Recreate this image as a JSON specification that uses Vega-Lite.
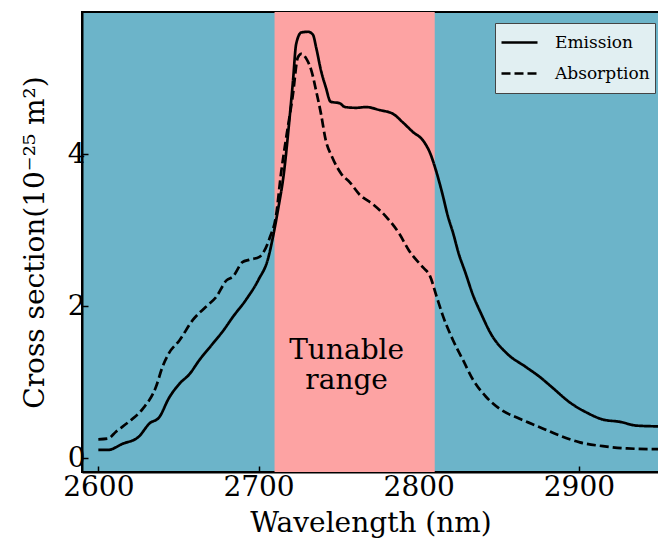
{
  "$schema": "https://vega.github.io/schema/vega-lite/v6.json",
  "width": 577,
  "height": 460,
  "autosize": {"type": "none"},
  "padding": {"left": 82, "top": 12, "right": 0, "bottom": 73},
  "background": "white",
  "datasets": {
    "band": [{"start": 2710, "end": 2810}],
    "label": [{"wavelength": 2755, "value": 1.31, "text": "Tunable\nrange"}],
    "curves": [
      {"series": "Emission", "wavelength": 2600, "value": 0.11},
      {"series": "Emission", "wavelength": 2606, "value": 0.11},
      {"series": "Emission", "wavelength": 2615, "value": 0.19},
      {"series": "Emission", "wavelength": 2625, "value": 0.28},
      {"series": "Emission", "wavelength": 2632, "value": 0.46},
      {"series": "Emission", "wavelength": 2638, "value": 0.54},
      {"series": "Emission", "wavelength": 2644, "value": 0.79},
      {"series": "Emission", "wavelength": 2650.6, "value": 0.98},
      {"series": "Emission", "wavelength": 2657, "value": 1.11},
      {"series": "Emission", "wavelength": 2663, "value": 1.29},
      {"series": "Emission", "wavelength": 2671.5, "value": 1.51},
      {"series": "Emission", "wavelength": 2678, "value": 1.68},
      {"series": "Emission", "wavelength": 2684, "value": 1.86},
      {"series": "Emission", "wavelength": 2692, "value": 2.08},
      {"series": "Emission", "wavelength": 2700, "value": 2.35},
      {"series": "Emission", "wavelength": 2706, "value": 2.63},
      {"series": "Emission", "wavelength": 2709, "value": 2.91},
      {"series": "Emission", "wavelength": 2712, "value": 3.25},
      {"series": "Emission", "wavelength": 2716, "value": 3.78},
      {"series": "Emission", "wavelength": 2719, "value": 4.39},
      {"series": "Emission", "wavelength": 2721.5, "value": 4.96},
      {"series": "Emission", "wavelength": 2723.5, "value": 5.45},
      {"series": "Emission", "wavelength": 2726.7, "value": 5.6},
      {"series": "Emission", "wavelength": 2731, "value": 5.61},
      {"series": "Emission", "wavelength": 2734, "value": 5.57},
      {"series": "Emission", "wavelength": 2736, "value": 5.4},
      {"series": "Emission", "wavelength": 2739, "value": 5.1},
      {"series": "Emission", "wavelength": 2742, "value": 4.88},
      {"series": "Emission", "wavelength": 2745, "value": 4.69},
      {"series": "Emission", "wavelength": 2750.6, "value": 4.67},
      {"series": "Emission", "wavelength": 2754, "value": 4.62},
      {"series": "Emission", "wavelength": 2761, "value": 4.61},
      {"series": "Emission", "wavelength": 2767, "value": 4.62},
      {"series": "Emission", "wavelength": 2775.6, "value": 4.58},
      {"series": "Emission", "wavelength": 2784, "value": 4.53},
      {"series": "Emission", "wavelength": 2790, "value": 4.42},
      {"series": "Emission", "wavelength": 2796.5, "value": 4.29},
      {"series": "Emission", "wavelength": 2802.7, "value": 4.18},
      {"series": "Emission", "wavelength": 2807, "value": 4.02},
      {"series": "Emission", "wavelength": 2811, "value": 3.77},
      {"series": "Emission", "wavelength": 2815, "value": 3.46},
      {"series": "Emission", "wavelength": 2818, "value": 3.2},
      {"series": "Emission", "wavelength": 2821.5, "value": 2.96},
      {"series": "Emission", "wavelength": 2825, "value": 2.69},
      {"series": "Emission", "wavelength": 2829, "value": 2.45},
      {"series": "Emission", "wavelength": 2834, "value": 2.14},
      {"series": "Emission", "wavelength": 2839, "value": 1.9},
      {"series": "Emission", "wavelength": 2845, "value": 1.64},
      {"series": "Emission", "wavelength": 2855, "value": 1.38},
      {"series": "Emission", "wavelength": 2867, "value": 1.2},
      {"series": "Emission", "wavelength": 2875.6, "value": 1.07},
      {"series": "Emission", "wavelength": 2884, "value": 0.92},
      {"series": "Emission", "wavelength": 2894, "value": 0.74},
      {"series": "Emission", "wavelength": 2905, "value": 0.6},
      {"series": "Emission", "wavelength": 2915, "value": 0.51},
      {"series": "Emission", "wavelength": 2925.6, "value": 0.48},
      {"series": "Emission", "wavelength": 2936, "value": 0.43},
      {"series": "Emission", "wavelength": 2950, "value": 0.42},
      {"series": "Absorption", "wavelength": 2600, "value": 0.25},
      {"series": "Absorption", "wavelength": 2606, "value": 0.26},
      {"series": "Absorption", "wavelength": 2611, "value": 0.35},
      {"series": "Absorption", "wavelength": 2619, "value": 0.48},
      {"series": "Absorption", "wavelength": 2627.7, "value": 0.65},
      {"series": "Absorption", "wavelength": 2636, "value": 0.94},
      {"series": "Absorption", "wavelength": 2640, "value": 1.2},
      {"series": "Absorption", "wavelength": 2644, "value": 1.38},
      {"series": "Absorption", "wavelength": 2650.6, "value": 1.55},
      {"series": "Absorption", "wavelength": 2659, "value": 1.82},
      {"series": "Absorption", "wavelength": 2667, "value": 1.99},
      {"series": "Absorption", "wavelength": 2673.5, "value": 2.12},
      {"series": "Absorption", "wavelength": 2680, "value": 2.34},
      {"series": "Absorption", "wavelength": 2684, "value": 2.39},
      {"series": "Absorption", "wavelength": 2690, "value": 2.58},
      {"series": "Absorption", "wavelength": 2694, "value": 2.61},
      {"series": "Absorption", "wavelength": 2700.6, "value": 2.65},
      {"series": "Absorption", "wavelength": 2707, "value": 2.9},
      {"series": "Absorption", "wavelength": 2711, "value": 3.2},
      {"series": "Absorption", "wavelength": 2714, "value": 3.74},
      {"series": "Absorption", "wavelength": 2717, "value": 4.18},
      {"series": "Absorption", "wavelength": 2721.5, "value": 4.79},
      {"series": "Absorption", "wavelength": 2724.5, "value": 5.27},
      {"series": "Absorption", "wavelength": 2726.7, "value": 5.32},
      {"series": "Absorption", "wavelength": 2730, "value": 5.25},
      {"series": "Absorption", "wavelength": 2733, "value": 5.1},
      {"series": "Absorption", "wavelength": 2736, "value": 4.83},
      {"series": "Absorption", "wavelength": 2739, "value": 4.53},
      {"series": "Absorption", "wavelength": 2742, "value": 4.18},
      {"series": "Absorption", "wavelength": 2746, "value": 3.96},
      {"series": "Absorption", "wavelength": 2751.7, "value": 3.74},
      {"series": "Absorption", "wavelength": 2757, "value": 3.63},
      {"series": "Absorption", "wavelength": 2763, "value": 3.47},
      {"series": "Absorption", "wavelength": 2771.5, "value": 3.34},
      {"series": "Absorption", "wavelength": 2780, "value": 3.17},
      {"series": "Absorption", "wavelength": 2788, "value": 2.95},
      {"series": "Absorption", "wavelength": 2794, "value": 2.73},
      {"series": "Absorption", "wavelength": 2802.7, "value": 2.51},
      {"series": "Absorption", "wavelength": 2807, "value": 2.4},
      {"series": "Absorption", "wavelength": 2811, "value": 2.14},
      {"series": "Absorption", "wavelength": 2815, "value": 1.88},
      {"series": "Absorption", "wavelength": 2821.5, "value": 1.55},
      {"series": "Absorption", "wavelength": 2827.7, "value": 1.29},
      {"series": "Absorption", "wavelength": 2834, "value": 1.03},
      {"series": "Absorption", "wavelength": 2842, "value": 0.81},
      {"series": "Absorption", "wavelength": 2850.6, "value": 0.65},
      {"series": "Absorption", "wavelength": 2863, "value": 0.52},
      {"series": "Absorption", "wavelength": 2875.6, "value": 0.41},
      {"series": "Absorption", "wavelength": 2888, "value": 0.3},
      {"series": "Absorption", "wavelength": 2900.6, "value": 0.21},
      {"series": "Absorption", "wavelength": 2915, "value": 0.16},
      {"series": "Absorption", "wavelength": 2930, "value": 0.13},
      {"series": "Absorption", "wavelength": 2950, "value": 0.12}
    ]
  },
  "layer": [
    {
      "data": {"name": "band"},
      "mark": {"type": "rect", "color": "#fda3a3", "opacity": 1},
      "encoding": {
        "x": {"field": "start", "type": "quantitative"},
        "x2": {"field": "end"}
      }
    },
    {
      "data": {"name": "curves"},
      "mark": {"type": "line", "color": "black", "strokeWidth": 2.7, "clip": true, "interpolate": "monotone"},
      "encoding": {
        "x": {
          "field": "wavelength",
          "type": "quantitative",
          "scale": {"domain": [2589.8, 2950], "nice": false, "zero": false},
          "axis": {"title": "Wavelength (nm)", "values": [2600, 2700, 2800, 2900], "format": "d", "labelPadding": 7, "titlePadding": 8}
        },
        "y": {
          "field": "value",
          "type": "quantitative",
          "scale": {"domain": [-0.18, 5.87], "nice": false, "zero": false},
          "axis": {"title": "Cross section(10⁻²⁵ m²)", "values": [0, 2, 4], "format": "d", "labelPadding": 3, "titlePadding": 18}
        },
        "strokeDash": {
          "field": "series",
          "type": "nominal",
          "scale": {"domain": ["Emission", "Absorption"], "range": [[1, 0], [9, 4]]},
          "legend": {
            "title": null,
            "orient": "none",
            "legendX": 413,
            "legendY": 11,
            "fillColor": "#e1eff2",
            "strokeColor": "#444444",
            "padding": 5,
            "symbolType": "stroke",
            "symbolSize": 1296,
            "symbolStrokeWidth": 2.7,
            "symbolStrokeColor": "black",
            "clipHeight": 29,
            "labelFont": "DejaVu Serif",
            "labelFontSize": 17,
            "labelColor": "black",
            "labelOffset": 16,
            "rowPadding": 2
          }
        },
        "order": {"field": "wavelength", "type": "quantitative"}
      }
    },
    {
      "data": {"name": "label"},
      "mark": {"type": "text", "font": "DejaVu Serif", "fontSize": 28, "lineBreak": "\n", "lineHeight": 30, "align": "center", "baseline": "alphabetic", "color": "black"},
      "encoding": {
        "x": {"field": "wavelength", "type": "quantitative"},
        "y": {"field": "value", "type": "quantitative"},
        "text": {"field": "text"}
      }
    }
  ],
  "config": {
    "view": {"fill": "#6cb4c9", "stroke": "black", "strokeWidth": 2},
    "axis": {
      "grid": false,
      "domain": true,
      "domainColor": "black",
      "domainWidth": 2,
      "tickColor": "black",
      "tickSize": -6,
      "tickWidth": 1.5,
      "labelFont": "DejaVu Serif",
      "labelFontSize": 28,
      "labelColor": "black",
      "titleFont": "DejaVu Serif",
      "titleFontSize": 28,
      "titleFontWeight": "normal",
      "titleColor": "black"
    }
  }
}
